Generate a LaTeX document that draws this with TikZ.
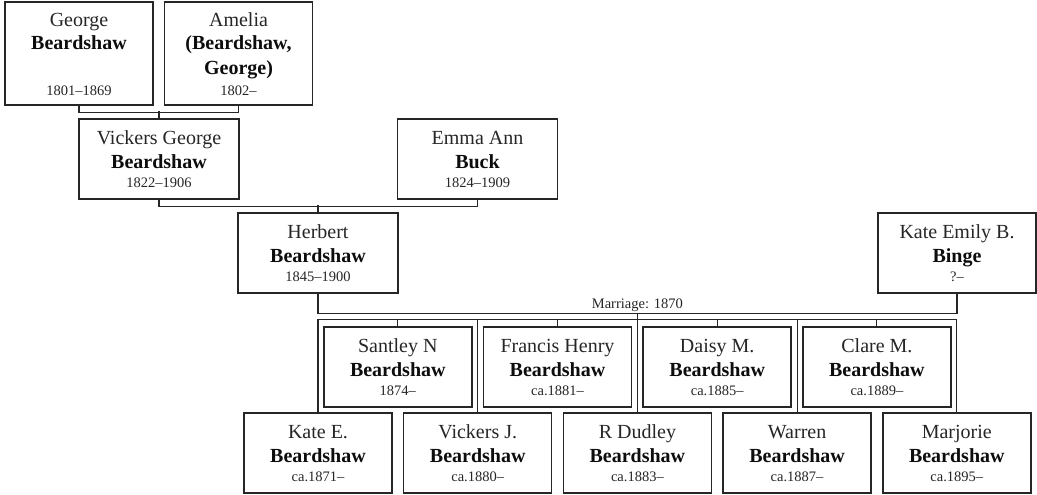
\documentclass[tikz,border=0pt]{standalone}
\usepackage{fontspec}
\setmainfont{Liberation Serif}
\newcommand\famperson[7]{%
  \node[person, minimum width=#4pt] (#1) at (#2,#3) {};
  \node[nm] (#1-g) at ([yshift=-26pt]#1.north) {#5};
  \node[sn] (#1-s) at ([yshift=-50pt]#1.north) {#6};
  \node[dt] (#1-d) at ([yshift=12pt]#1.south) {#7};
}
\begin{document}
\begin{tikzpicture}[x=1pt,y=1pt,
  person/.style={draw=black!85, line width=1.5pt, fill=white, inner sep=0pt, minimum height=80pt},
  nm/.style={inner sep=0pt, text=black!85, font=\fontsize{20}{24}\selectfont, anchor=base},
  sn/.style={nm, text=black!95, font=\fontsize{20}{24}\selectfont\bfseries},
  dt/.style={nm, font=\fontsize{14.5}{17}\selectfont},
  link/.style={draw=black!85, line width=1.1pt}]
\useasboundingbox (0,0) rectangle (1037,-495);

% generation 1
\node[person, minimum width=148pt, minimum height=103pt] (george) at (79,-53.5) {};
\node[nm] (george-g) at ([yshift=-25pt]george.north) {George};
\node[sn] (george-s) at ([yshift=-48pt]george.north) {Beardshaw};
\node[dt] (george-d) at ([yshift=10pt]george.south) {1801–1869};

\node[person, minimum width=148pt, minimum height=103pt] (amelia) at (238.5,-53.5) {};
\node[nm] (amelia-g) at ([yshift=-25pt]amelia.north) {Amelia};
\node[sn] (amelia-s) at ([yshift=-48pt]amelia.north) {(Beardshaw,};
\node[sn] (amelia-t) at ([yshift=-73pt]amelia.north) {George)};
\node[dt] (amelia-d) at ([yshift=10pt]amelia.south) {1802–};

% generation 2
\famperson{vickers}{159}{-159}{160}{Vickers George}{Beardshaw}{1822–1906}
\famperson{emma}{477.5}{-159}{160}{Emma Ann}{Buck}{1824–1909}

% generation 3
\famperson{herbert}{318}{-253}{160}{Herbert}{Beardshaw}{1845–1900}
\famperson{kateemily}{957}{-253}{158}{Kate Emily B.}{Binge}{?–}

% children, upper row
\famperson{santley}{397.8}{-367}{148}{Santley N}{Beardshaw}{1874–}
\famperson{francis}{557.5}{-367}{148}{Francis Henry}{Beardshaw}{ca.1881–}
\famperson{daisy}{717.2}{-367}{148}{Daisy M.}{Beardshaw}{ca.1885–}
\famperson{clare}{876.9}{-367}{148}{Clare M.}{Beardshaw}{ca.1889–}

% children, lower row
\famperson{katee}{318}{-453}{148}{Kate E.}{Beardshaw}{ca.1871–}
\famperson{vickersj}{477.7}{-453}{148}{Vickers J.}{Beardshaw}{ca.1880–}
\famperson{rdudley}{637.4}{-453}{148}{R Dudley}{Beardshaw}{ca.1883–}
\famperson{warren}{797.1}{-453}{148}{Warren}{Beardshaw}{ca.1887–}
\famperson{marjorie}{956.8}{-453}{148}{Marjorie}{Beardshaw}{ca.1895–}

% connectors
\draw[link] (george.south) -- ++(0,-7) -| (amelia.south);
\draw[link] (vickers.north) -- ++(0,7);
\draw[link] (vickers.south) -- ++(0,-7) -| (emma.south);
\draw[link] (herbert.north) -- ++(0,7);
\draw[link] (herbert.south) -- ++(0,-19.5) -| (kateemily.south);
\coordinate (marriage) at (637.4,-312.5);
\draw[link] (marriage) -- ++(0,-7.5);
\node[dt] (mlabel) at (637.4,-308.3) {Marriage: 1870};

\draw[link] (katee.north) -- ++(0,93) -| (marjorie.north);
\draw[link] (vickersj.north) -- ++(0,93);
\draw[link] (rdudley.north) -- ++(0,93);
\draw[link] (warren.north) -- ++(0,93);
\draw[link] (santley.north) -- ++(0,7);
\draw[link] (francis.north) -- ++(0,7);
\draw[link] (daisy.north) -- ++(0,7);
\draw[link] (clare.north) -- ++(0,7);
\end{tikzpicture}
\end{document}
